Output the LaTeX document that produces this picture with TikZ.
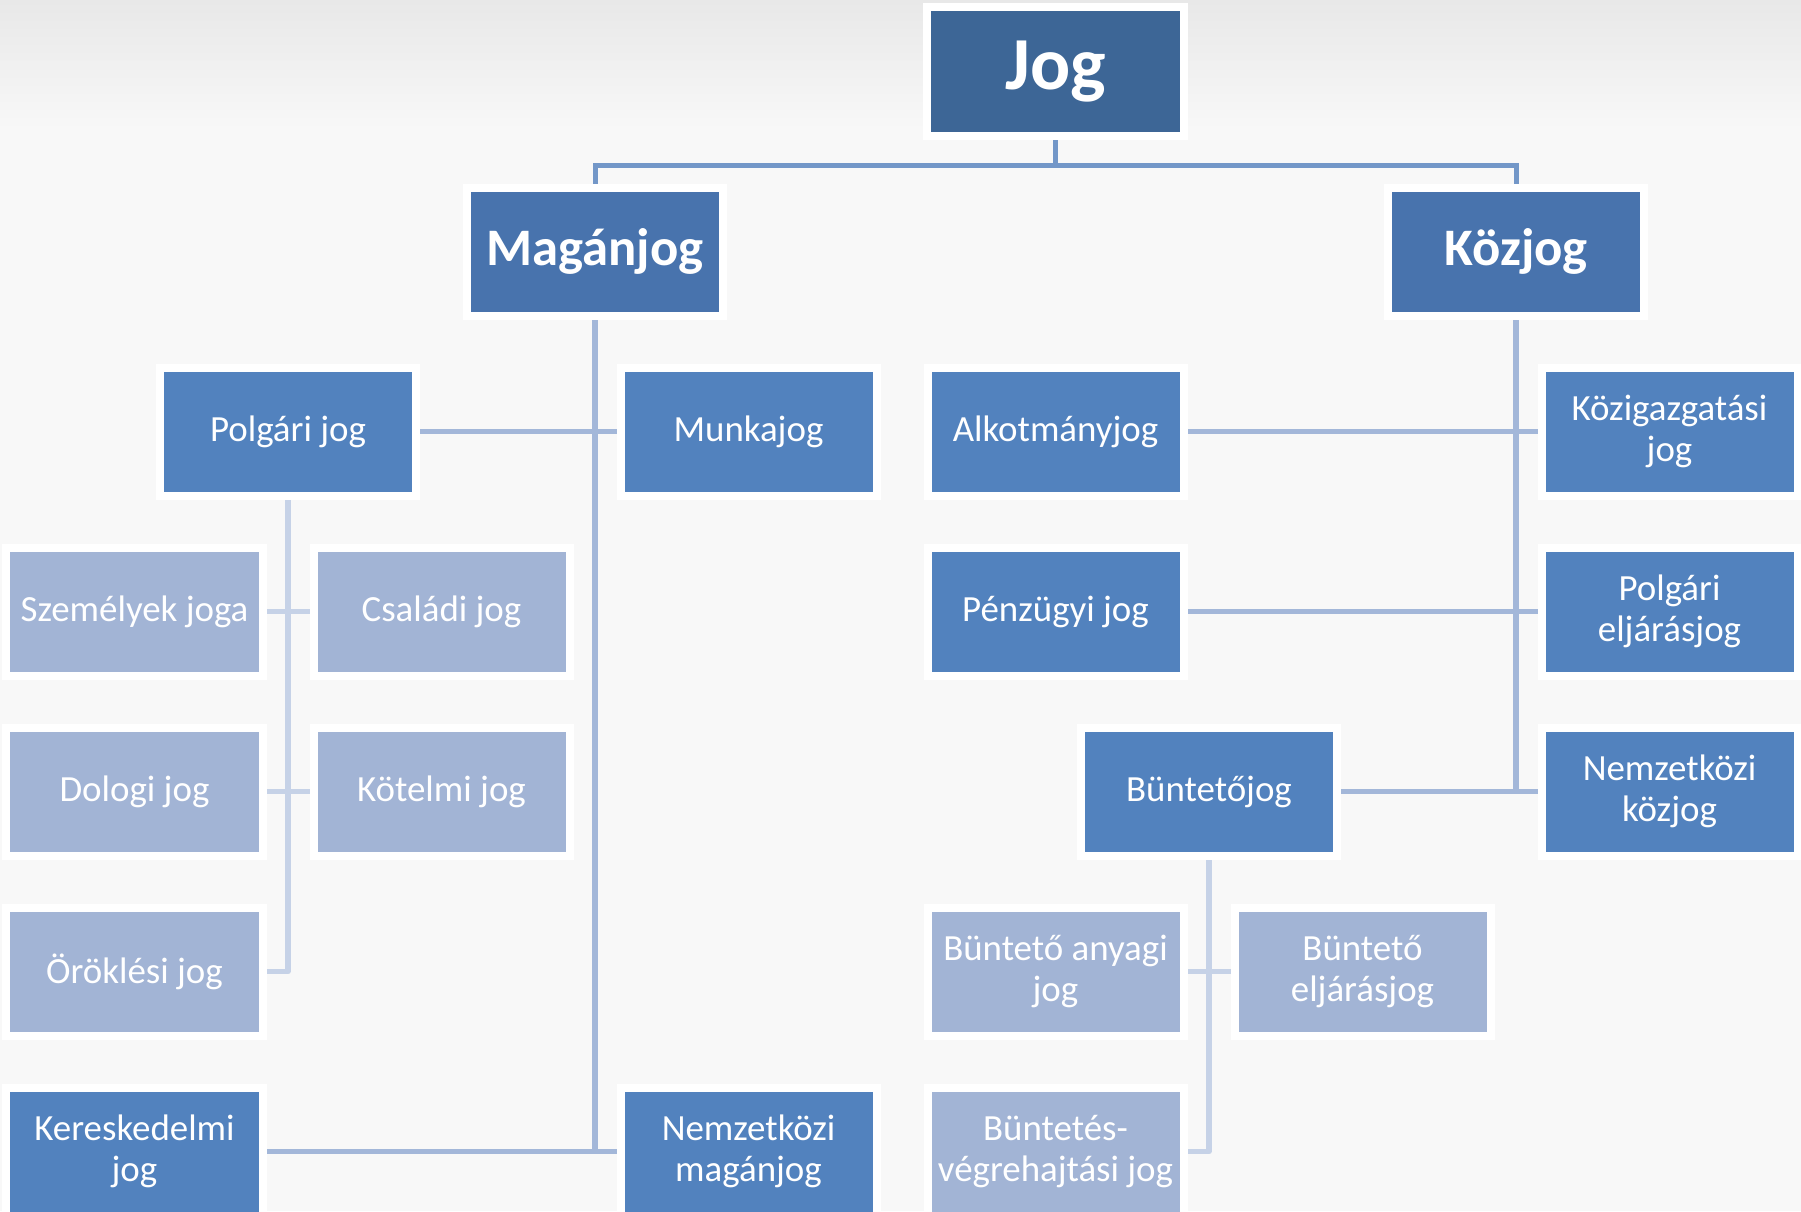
\documentclass[tikz,border=0pt]{standalone}
\usepackage{fontspec}
\setmainfont{Carlito}
\usetikzlibrary{positioning, backgrounds}
\definecolor{jogblue}{HTML}{3D6696}
\definecolor{mainblue}{HTML}{4873AD}
\definecolor{subblue}{HTML}{5282BE}
\definecolor{leafblue}{HTML}{A2B4D5}
\definecolor{toplinecol}{HTML}{7397C8}
\definecolor{midlinecol}{HTML}{A3B7D9}
\definecolor{palelinecol}{HTML}{C6D2E7}
\definecolor{bgcol}{HTML}{F8F8F8}
\definecolor{bgtop}{HTML}{E8E8E8}
\tikzset{
    node distance=1.8cm, % row pitch
    box/.style={rectangle, draw=white, line width=0.08cm, minimum width=2.56cm, minimum height=1.28cm,
        inner sep=0pt, align=center, text=white, font=\fontsize{10.5}{11.7}\selectfont},
    jogbox/.style={box, fill=jogblue, minimum width=2.57cm, minimum height=1.29cm, font=\fontsize{21.3}{24}\selectfont\bfseries},
    mainbox/.style={box, fill=mainblue, font=\fontsize{15}{18}\selectfont\bfseries},
    subbox/.style={box, fill=subblue},
    leafbox/.style={box, fill=leafblue},
}
\tikzset{
    topline/.style={draw=toplinecol, line width=0.05cm},
    midline/.style={draw=midlinecol, line width=0.055cm},
    paleline/.style={draw=palelinecol, line width=0.055cm, line join=round},
}
\begin{document}
\begin{tikzpicture}
        \useasboundingbox (0,0) rectangle (18.01,-12.11);
        % Nodes
        \node[jogbox] (jog) at (10.555,-0.715) {Jog};
        \node[mainbox, below of=jog, xshift=-4.605cm] (magan) {Magánjog};
        \node[mainbox, below of=jog, xshift=4.605cm] (koz) {Közjog};

        \node[subbox, below of=magan, xshift=-3.07cm] (polgari) {Polgári jog};
        \node[subbox, below of=magan, xshift=1.535cm] (munka) {Munkajog};
        \node[subbox, below of=koz, xshift=-4.605cm] (alkotmany) {Alkotmányjog};
        \node[subbox, below of=koz, xshift=1.535cm] (kozigazg) {Közigazgatási\\jog};

        \node[leafbox, below of=polgari, xshift=-1.535cm] (szemely) {Személyek joga};
        \node[leafbox, below of=polgari, xshift=1.535cm] (csaladi) {Családi jog};
        \node[subbox, below of=alkotmany] (penzugyi) {Pénzügyi jog};
        \node[subbox, below of=kozigazg] (polgeljaras) {Polgári\\eljárásjog};

        \node[leafbox, below of=szemely] (dologi) {Dologi jog};
        \node[leafbox, below of=csaladi] (kotelmi) {Kötelmi jog};
        \node[subbox, below of=penzugyi, xshift=1.535cm] (buntetojog) {Büntetőjog};
        \node[subbox, below of=polgeljaras] (nemzkozjog) {Nemzetközi\\közjog};

        \node[leafbox, below of=dologi] (oroklesi) {Öröklési jog};
        \node[leafbox, below of=buntetojog, xshift=-1.535cm] (buntanyagi) {Büntető anyagi\\jog};
        \node[leafbox, below of=buntetojog, xshift=1.535cm] (buntelj) {Büntető\\eljárásjog};

        \node[subbox, below of=oroklesi] (keresk) {Kereskedelmi\\jog};
        \node[subbox, right of=keresk, xshift=4.34cm] (nemzmagan) {Nemzetközi\\magánjog};
        \node[leafbox, below of=buntanyagi] (buntvegr) {Büntetés-\\végrehajtási jog};

        % Draw lines
        \begin{pgfonlayer}{background}
            \fill[bgcol] (0,0) rectangle (18.01,-12.11);
            \shade[top color=bgtop, bottom color=bgcol] (0,0) rectangle (18.01,-1.3);

            \draw[topline] (jog.south) -- ++(0,-0.255) coordinate (jogsplit);
            \draw[topline] (magan.north) |- (jogsplit) -| (koz.north);

            \draw[midline] (magan.south) |- (nemzmagan.west);
            \draw[midline] (polgari.east) -- (munka.west);
            \draw[midline] (keresk.east) -- (nemzmagan.west);

            \draw[midline] (koz.south) |- (buntetojog.east);
            \draw[midline] (alkotmany.east) -- (kozigazg.west);
            \draw[midline] (penzugyi.east) -- (polgeljaras.west);
            \draw[midline] (buntetojog.east) -- (nemzkozjog.west);

            \draw[paleline] (polgari.south) |- (oroklesi.east);
            \draw[paleline] (szemely.east) -- (csaladi.west);
            \draw[paleline] (dologi.east) -- (kotelmi.west);

            \draw[paleline] (buntetojog.south) |- (buntvegr.east);
            \draw[paleline] (buntanyagi.east) -- (buntelj.west);
        \end{pgfonlayer}
    \end{tikzpicture}
\end{document}
